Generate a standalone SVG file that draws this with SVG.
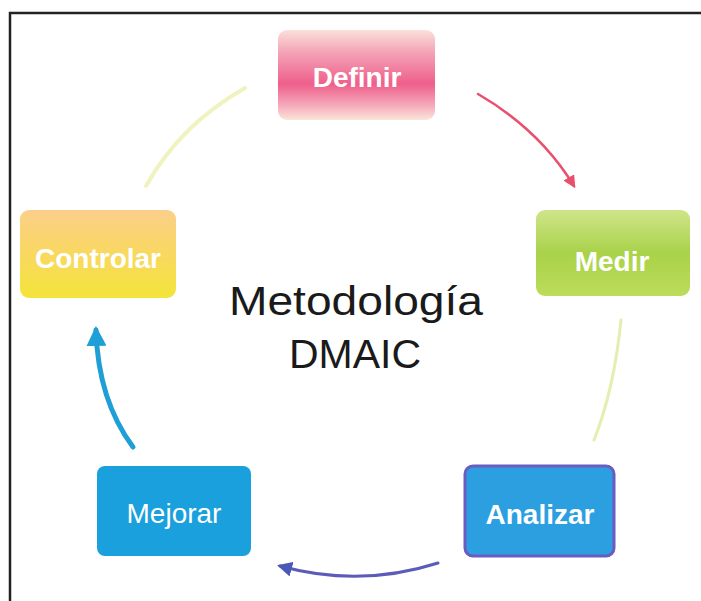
<svg xmlns="http://www.w3.org/2000/svg" width="701" height="601" viewBox="0 0 701 601">
  <defs>
    <linearGradient id="gDef" x1="0" y1="0" x2="0" y2="1">
      <stop offset="0" stop-color="#fbe0d8"/>
      <stop offset="0.25" stop-color="#f4a3b6"/>
      <stop offset="0.6" stop-color="#ee5f8b"/>
      <stop offset="0.85" stop-color="#f6aebe"/>
      <stop offset="1" stop-color="#fbe6d8"/>
    </linearGradient>
    <linearGradient id="gMed" x1="0" y1="0" x2="0" y2="1">
      <stop offset="0" stop-color="#cfe58a"/>
      <stop offset="0.5" stop-color="#a9d24a"/>
      <stop offset="1" stop-color="#bcdc5a"/>
    </linearGradient>
    <linearGradient id="gCon" x1="0" y1="0" x2="0" y2="1">
      <stop offset="0" stop-color="#fbcf8a"/>
      <stop offset="0.5" stop-color="#f9d860"/>
      <stop offset="1" stop-color="#f3e43a"/>
    </linearGradient>
    <marker id="ahPink" viewBox="0 0 10 10" refX="8" refY="5" markerWidth="5" markerHeight="5" orient="auto">
      <path d="M0,0 L10,5 L0,10 z" fill="#e8506e"/>
    </marker>
    <marker id="ahPurple" viewBox="0 0 10 10" refX="8" refY="5" markerWidth="5" markerHeight="5" orient="auto">
      <path d="M0,0 L10,5 L0,10 z" fill="#4a58b8"/>
    </marker>
    <marker id="ahBlue" viewBox="0 0 10 10" refX="8" refY="5" markerWidth="4" markerHeight="4" orient="auto">
      <path d="M0,0 L10,5 L0,10 z" fill="#1e9fd6"/>
    </marker>
  </defs>
  <style>
    .lbl { font-family: "Liberation Sans", Arial, sans-serif; font-size: 28px; fill: #ffffff; text-anchor: middle; }
    .title { font-family: "Liberation Sans", Arial, sans-serif; font-size: 41px; fill: #1a1a1a; text-anchor: middle; }
    .conn { fill: none; stroke-linecap: round; }
  </style>

  <rect x="0" y="0" width="701" height="601" fill="#ffffff"/>
  <!-- outer frame: top and left edges -->
  <path d="M10,601 L10,13 L701,13" fill="none" stroke="#222" stroke-width="2.5"/>

  <g id="connectors">
    <path class="conn" d="M478,94 Q540,130 574,186" stroke="#e8506e" stroke-width="2.5" marker-end="url(#ahPink)"/>
    <path class="conn" d="M621,320 Q614,390 594,440" stroke="#e6edb0" stroke-width="3"/>
    <path class="conn" d="M438,563 Q360,588 280,566" stroke="#5a5cb8" stroke-width="3" marker-end="url(#ahPurple)"/>
    <path class="conn" d="M133,447 Q98,400 96,330" stroke="#1e9fd6" stroke-width="5" marker-end="url(#ahBlue)"/>
    <path class="conn" d="M146,186 Q180,125 245,88" stroke="#f0f3c0" stroke-width="4"/>
  </g>

  <g id="definir">
    <rect x="278" y="30" width="157" height="90" rx="9" fill="url(#gDef)"/>
    <text class="lbl" x="357" y="87" font-weight="bold">Definir</text>
  </g>
  <g id="medir">
    <rect x="536" y="210" width="154" height="86" rx="9" fill="url(#gMed)"/>
    <text class="lbl" x="612" y="271" font-weight="bold">Medir</text>
  </g>
  <g id="controlar">
    <rect x="20" y="210" width="156" height="88" rx="9" fill="url(#gCon)"/>
    <text class="lbl" x="98" y="268" font-weight="bold">Controlar</text>
  </g>
  <g id="mejorar">
    <rect x="97" y="466" width="154" height="90" rx="8" fill="#1aa0dc"/>
    <text class="lbl" x="174" y="523" fill="#d8f0f6">Mejorar</text>
  </g>
  <g id="analizar">
    <rect x="465" y="466" width="149" height="90" rx="8" fill="#2c9fe0" stroke="#6a5cc0" stroke-width="3"/>
    <text class="lbl" x="540" y="524" font-weight="bold">Analizar</text>
  </g>

  <g id="title">
    <text class="title" x="356" y="315" textLength="254" lengthAdjust="spacingAndGlyphs">Metodología</text>
    <text class="title" x="355" y="368">DMAIC</text>
  </g>
</svg>
